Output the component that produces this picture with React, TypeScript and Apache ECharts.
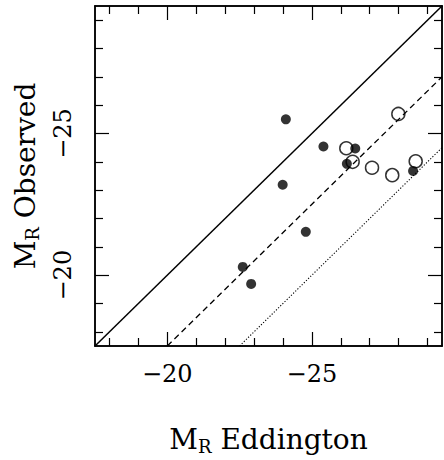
import React, { useEffect, useRef } from "react";
import * as echarts from "echarts";

// Axis range (magnitudes, both axes inverted)
const AXIS_MIN = -29.5;
const AXIS_MAX = -17.5;
const minorTickValues = [-18, -19, -21, -22, -23, -24, -26, -27, -28, -29];
const majorTickValues = [-20, -25];

// Filled circles
const filledX = [-24.1, -25.4, -26.5, -26.21, -23.99, -28.5, -24.79, -22.61, -22.9];
const filledY = [-25.5, -24.54, -24.47, -23.93, -23.19, -23.68, -21.53, -20.29, -19.69];

// Open circles
const openX = [-27.99, -26.19, -26.41, -27.08, -27.78, -28.59];
const openY = [-25.69, -24.48, -24.0, -23.79, -23.53, -24.02];

// Reference lines: M_obs = M_edd + offset
const lineOffsets = [0, 2.5, 5];
const lineTypes: any[] = ["solid", [6, 4], [1.2, 1.8]];
const lineWidths = [1.5, 1.3, 1.1];

const FONT = "DejaVu Serif";
const fmt = (v: number) => (v < 0 ? "\u2212" + Math.abs(v) : String(v));

function lineEndpoints(offset: number): number[][] {
  // clip y = x + offset to the square axis range
  const x0 = AXIS_MAX - offset; // where y = AXIS_MAX
  const x1 = AXIS_MIN; // right edge
  return [
    [x0, x0 + offset],
    [x1, x1 + offset],
  ];
}

const nameRich = {
  a: { fontSize: 28, fontFamily: FONT, color: "#000" },
  b: { fontSize: 18, fontFamily: FONT, color: "#000", padding: [13, 0, 0, 0] },
};

function makeAxis(dim: "x" | "y", pos: string, major: boolean, primary: boolean): any {
  const ax: any = {
    type: "value",
    min: AXIS_MIN,
    max: AXIS_MAX,
    inverse: true,
    position: pos,
    gridIndex: 0,
    splitLine: { show: false },
    axisLine: { show: true, onZero: false, lineStyle: { color: "#000", width: 1.5 } },
    axisTick: {
      show: true,
      inside: true,
      length: major ? 14 : 8,
      customValues: major ? majorTickValues : minorTickValues,
      lineStyle: { color: "#000", width: 1.2 },
    },
    axisLabel: { show: false },
  };
  if (primary) {
    ax.axisLabel = {
      show: true,
      customValues: majorTickValues,
      formatter: (v: number) => fmt(v),
      fontSize: 24,
      fontFamily: FONT,
      color: "#000",
      margin: dim === "x" ? 16 : 20,
      rotate: dim === "y" ? 90 : 0,
    };
    ax.nameLocation = "middle";
    if (dim === "x") {
      ax.name = "{a|M}{b|R}{a| Eddington}";
      ax.nameGap = 78;
    } else {
      ax.name = "{a|M}{b|R}{a| Observed}";
      ax.nameGap = 54;
    }
    ax.nameTextStyle = { rich: nameRich, fontSize: 28, fontFamily: FONT, color: "#000" };
  }
  return ax;
}

export default function App() {
  const ref = useRef<HTMLDivElement>(null);
  useEffect(() => {
    if (!ref.current) return;
    const chart = echarts.init(ref.current, null, { renderer: "svg" });
    const lineSeries = lineOffsets.map((off, i) => ({
      type: "line",
      xAxisIndex: 0,
      yAxisIndex: 0,
      data: lineEndpoints(off),
      showSymbol: false,
      symbol: "none",
      silent: true,
      lineStyle: { color: "#000", width: lineWidths[i], type: lineTypes[i] },
    }));
    chart.setOption({
      animation: false,
      backgroundColor: "#fff",
      grid: { left: 95, top: 6, width: 347, height: 347, containLabel: false },
      xAxis: [
        makeAxis("x", "bottom", false, true),
        makeAxis("x", "bottom", true, false),
        makeAxis("x", "top", false, false),
        makeAxis("x", "top", true, false),
      ],
      yAxis: [
        makeAxis("y", "left", false, true),
        makeAxis("y", "left", true, false),
        makeAxis("y", "right", false, false),
        makeAxis("y", "right", true, false),
      ],
      series: [
        ...lineSeries,
        {
          type: "scatter",
          xAxisIndex: 0,
          yAxisIndex: 0,
          symbol: "circle",
          symbolSize: 13,
          data: openX.map((x, i) => [x, openY[i]]),
          itemStyle: { color: "rgba(0,0,0,0)", borderColor: "#000", borderWidth: 1.5 },
        },
        {
          type: "scatter",
          xAxisIndex: 0,
          yAxisIndex: 0,
          symbol: "circle",
          symbolSize: 10,
          data: filledX.map((x, i) => [x, filledY[i]]),
          itemStyle: { color: "#000" },
        },
      ],
    });
    return () => chart.dispose();
  }, []);
  return (
    <div
      ref={ref}
      style={{ position: "fixed", left: 0, top: 0, width: 444, height: 460, background: "#fff" }}
    />
  );
}
